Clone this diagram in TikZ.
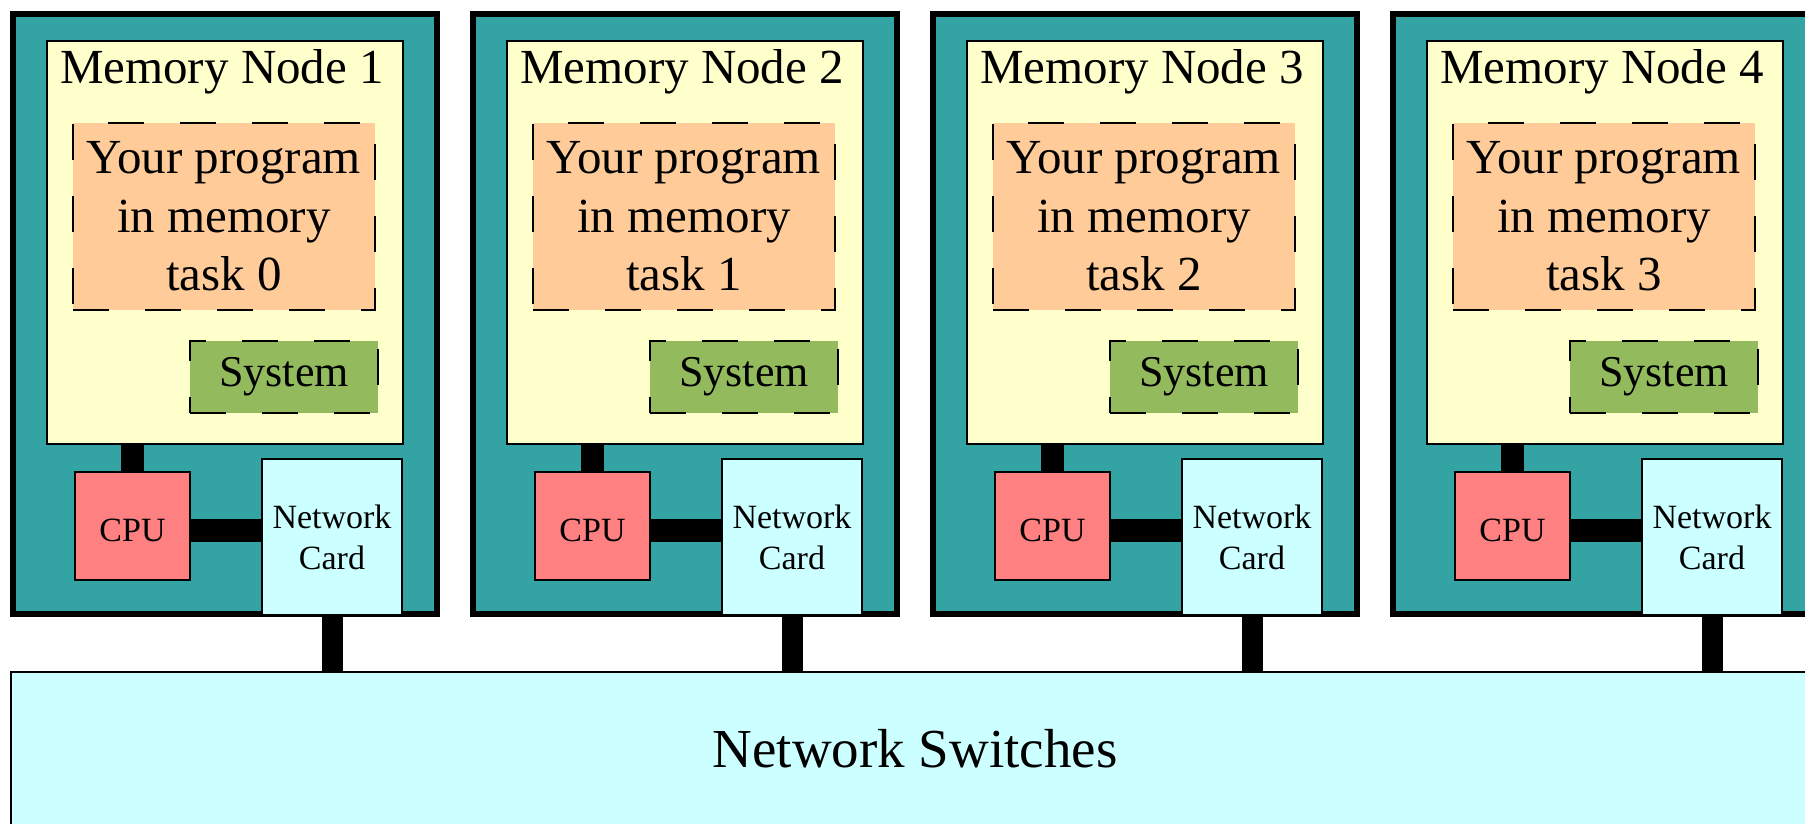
\documentclass[tikz,border=0pt]{standalone}
\usepackage{fontspec}
\setmainfont{Liberation Serif}
\definecolor{boardteal}{RGB}{51,163,163}
\definecolor{memyellow}{RGB}{255,255,204}
\definecolor{progorange}{RGB}{255,204,153}
\definecolor{sysgreen}{RGB}{147,187,94}
\definecolor{cpured}{RGB}{255,128,128}
\definecolor{netcyan}{RGB}{204,255,255}
\begin{document}
\begin{tikzpicture}[x=0.5pt,y=-0.5pt,
    box/.style={draw=black,line width=0.8pt,inner sep=0pt,outer sep=0pt,anchor=north west},
    dashbox/.style={box,line width=1pt,dash pattern=on 18pt off 18pt},
    wire/.style={line width=11.5pt},
    bigfont/.style={font=\fontsize{24.5}{29.25}\selectfont},
    smallfont/.style={font=\fontsize{17}{20.5}\selectfont}
    ]
\useasboundingbox (0,0) rectangle (1805,824);
\clip (0,0) rectangle (1805,824);
\node[box,fill=netcyan,minimum width=904pt,minimum height=77pt,
      font=\fontsize{27.5}{33}\selectfont] (switch) at (11,672) {Network Switches};
\foreach \n [count=\i from 0] in {1,2,3,4}{
\begin{scope}[xshift=\i*230pt]
  \node[box,fill=boardteal,line width=3pt,minimum width=212pt,minimum height=300pt] (board\n) at (13,14) {};
  \node[box,fill=memyellow,minimum width=178pt,minimum height=201.5pt] (mem\n) at (47,41) {};
  \node[bigfont,anchor=base] (title\n) at (222,84) {Memory Node \n};
  \node[dashbox,fill=progorange,minimum width=151pt,minimum height=93.5pt,
        bigfont,align=center] (prog\n) at (73,123) {Your program\\in memory\\task \i};
  \node[dashbox,fill=sysgreen,minimum width=94pt,minimum height=36pt,
        font=\fontsize{22}{26}\selectfont] (sys\n) at (190,341) {System};
  \node[box,fill=cpured,minimum width=57.5pt,minimum height=54pt,smallfont] (cpu\n) at (75,472)
       {\raisebox{-2.25pt}[\height][\depth]{CPU}};
  \node[box,fill=netcyan,minimum width=70pt,minimum height=78pt,smallfont,align=center] (nc\n) at (262,459) {Network\\Card};
  \draw[wire] (cpu\n.north) -- (cpu\n.north |- mem\n.south);
  \draw[wire] ([yshift=-2pt]cpu\n.east) -- ([yshift=-2pt]cpu\n.east -| nc\n.west);
  \draw[wire,line width=10.5pt] (nc\n.south) -- (nc\n.south |- switch.north);
\end{scope}
}
\end{tikzpicture}
\end{document}
